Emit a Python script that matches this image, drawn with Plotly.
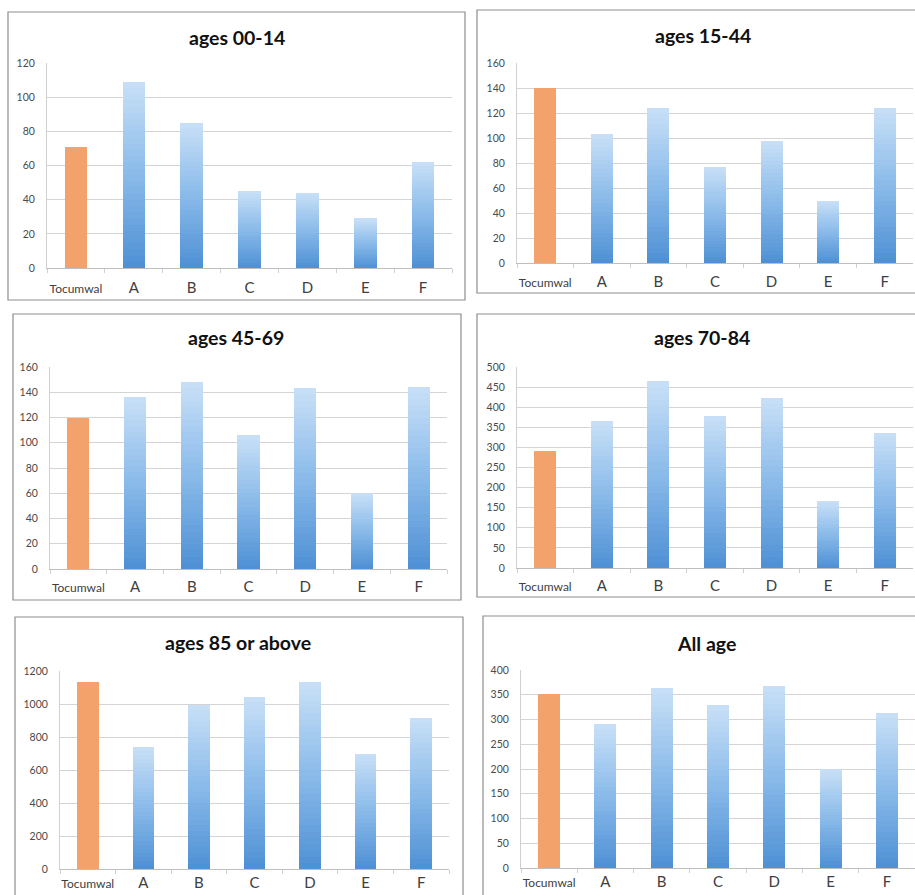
import plotly.graph_objects as go

# ---- data -------------------------------------------------------------
categories = ["Tocumwal", "A", "B", "C", "D", "E", "F"]

titles = ["ages 00-14", "ages 15-44", "ages 45-69",
          "ages 70-84", "ages 85 or above", "All age"]

ages_00_14 = [71, 109, 85, 45, 44, 29, 62]
ages_15_44 = [140, 103, 124, 77, 98, 50, 124]
ages_45_69 = [120, 136, 148, 106, 143, 60, 144]
ages_70_84 = [290, 365, 464, 378, 423, 166, 336]
ages_85_up = [1135, 740, 995, 1044, 1131, 700, 913]
all_ages = [351, 290, 363, 329, 368, 200, 314]

series = [ages_00_14, ages_15_44, ages_45_69, ages_70_84, ages_85_up, all_ages]

y_max = [120, 160, 160, 500, 1200, 400]
y_step = [20, 20, 20, 50, 200, 50]

# ---- page geometry (pixels) ---------------------------------------------
W, H = 915, 895
# plot areas: (left, right, top, bottom)
plot_px = [
    (47, 452, 63, 268),
    (517, 913, 63, 263),
    (50, 447, 367, 569),
    (517, 913, 367, 568),
    (60, 449, 671, 869),
    (521, 915, 670, 868),
]
# panel frames: (left, right, top, bottom)
frame_px = [
    (8, 465, 12, 300),
    (477, 925, 10, 293),
    (13, 461, 314, 600),
    (477, 925, 314, 597),
    (15, 463, 617, 905),
    (483, 925, 616, 905),
]
title_px = [(237, 37), (703, 35), (236, 338), (702, 338), (238, 642), (706, 643)]
# gap between the category axis and its labels
label_gap = [6, 5, 4, 4, 0, 0]

ORANGE = "#F3A26C"
BLUE_BOTTOM = (78, 144, 212)
BLUE_MID = (138, 186, 234)
BLUE_TOP = (200, 224, 246)
N_SEG = 30


def px_x(v):
    return min(max(v / W, 0.0), 1.0)


def px_y(v):
    return min(max(1 - v / H, 0.0), 1.0)


def frame_x(v):
    return v / W


def frame_y(v):
    return 1 - v / H


def lerp(c1, c2, t):
    return tuple(round(a + (b - a) * t) for a, b in zip(c1, c2))


def blue_at(t):
    # t = 0 at the base of a bar, 1 at its top
    if t < 0.5:
        c = lerp(BLUE_BOTTOM, BLUE_MID, t / 0.5)
    else:
        c = lerp(BLUE_MID, BLUE_TOP, (t - 0.5) / 0.5)
    return "rgb(%d,%d,%d)" % c


fig = go.Figure()
layout = {}
shapes = []
annotations = []

tick_text = ["<span style='font-size:12px'>Tocumwal</span>"] + categories[1:]

for i, vals in enumerate(series):
    n = i + 1
    xa = "x" if n == 1 else "x%d" % n
    ya = "y" if n == 1 else "y%d" % n

    # each bar is a stack of thin slices shaded from dark (base) to light (top)
    for s in range(N_SEG):
        t = (s + 0.5) / N_SEG
        colors = [ORANGE] + [blue_at(t)] * (len(vals) - 1)
        fig.add_trace(go.Bar(
            x=categories,
            y=[v / N_SEG for v in vals],
            marker=dict(color=colors, line=dict(width=0)),
            xaxis=xa, yaxis=ya,
            showlegend=False, hoverinfo="skip",
        ))

    l, r, t_, b = plot_px[i]
    layout["xaxis" if n == 1 else "xaxis%d" % n] = dict(
        domain=[px_x(l), px_x(r)], anchor=ya,
        tickvals=categories, ticktext=tick_text, tickangle=0,
        tickfont=dict(family="Lato", size=15, color="#404040"),
        showline=True, linecolor="#BFBFBF", linewidth=1,
        ticks="outside", tickson="boundaries", ticklen=4, tickcolor="#D0D0D0",
        ticklabelstandoff=label_gap[i], automargin=False,
        showgrid=False, fixedrange=True,
    )
    layout["yaxis" if n == 1 else "yaxis%d" % n] = dict(
        domain=[px_y(b), px_y(t_)], anchor=xa,
        range=[0, y_max[i]], dtick=y_step[i], tick0=0,
        tickfont=dict(family="Lato", size=10.5, color="#4a4a4a"),
        showgrid=True, gridcolor="#D4D4D4", gridwidth=1,
        showline=True, linecolor="#D0D0D0", linewidth=1,
        zeroline=False, ticks="", ticklabelstandoff=9, automargin=False,
        fixedrange=True,
    )

    fl, fr, ft, fb = frame_px[i]
    shapes.append(dict(
        type="rect", xref="paper", yref="paper",
        x0=frame_x(fl), x1=frame_x(fr), y0=frame_y(fb), y1=frame_y(ft),
        line=dict(color="#8E8E8E", width=1.2), fillcolor="rgba(0,0,0,0)",
        layer="above",
    ))

    tx, ty = title_px[i]
    annotations.append(dict(
        text="<b>%s</b>" % titles[i], xref="paper", yref="paper",
        x=px_x(tx), y=px_y(ty), xanchor="center", yanchor="middle",
        showarrow=False, font=dict(family="Lato", size=19.5, color="#111111"),
    ))

fig.update_layout(
    width=W, height=H,
    margin=dict(l=0, r=0, t=0, b=0),
    paper_bgcolor="white", plot_bgcolor="white",
    barmode="stack", bargap=0.61,
    shapes=shapes, annotations=annotations,
    **layout,
)

fig.write_html("out.html")
